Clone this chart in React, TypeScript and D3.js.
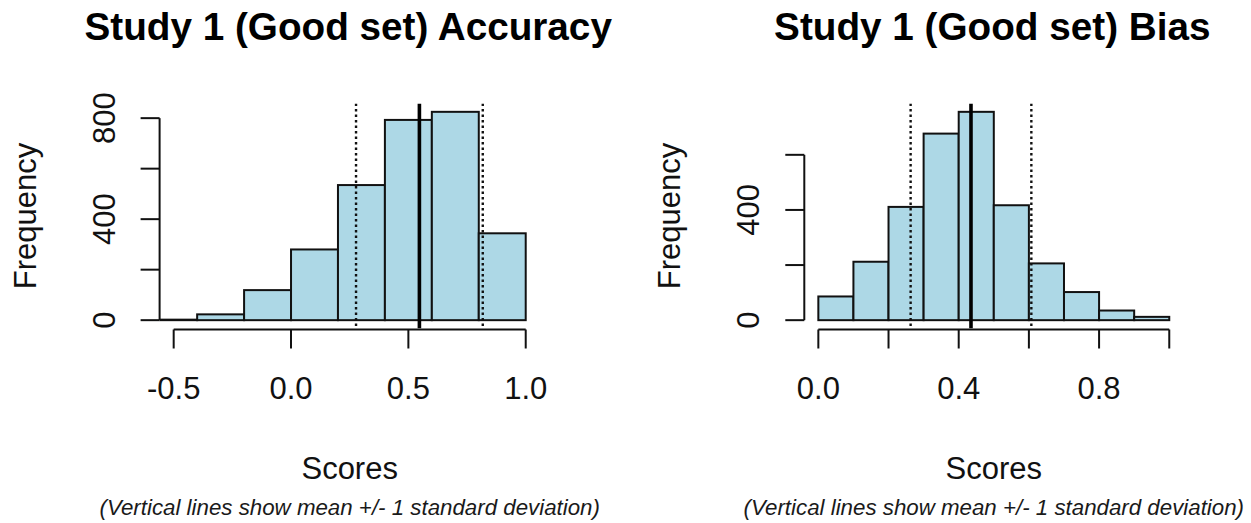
import React from "react";
import * as d3 from "d3";

// Accuracy histogram (Study 1, Good set)
const accuracyBreaks = [-0.6, -0.4, -0.2, 0, 0.2, 0.4, 0.6, 0.8, 1.0];
const accuracyCounts = [2, 23, 119, 280, 535, 793, 825, 344];
const accuracyMean = 0.547;
const accuracySd = 0.27;
const accuracyXLim = [-0.5, 1.0];
const accuracyXTicks = [-0.5, 0, 0.5, 1.0];
const accuracyXLabels = ["-0.5", "0.0", "0.5", "1.0"];
const accuracyYTicks = [0, 200, 400, 600, 800];
const accuracyYLabels = ["0", "", "400", "", "800"];

// Bias histogram (Study 1, Good set)
const biasBreaks = [0, 0.1, 0.2, 0.3, 0.4, 0.5, 0.6, 0.7, 0.8, 0.9, 1.0];
const biasCounts = [86, 212, 411, 677, 756, 417, 206, 102, 35, 12];
const biasMean = 0.435;
const biasSd = 0.172;
const biasXLim = [0, 1.0];
const biasXTicks = [0, 0.2, 0.4, 0.6, 0.8, 1.0];
const biasXLabels = ["0.0", "", "0.4", "", "0.8", ""];
const biasYTicks = [0, 200, 400, 600];
const biasYLabels = ["0", "", "400", ""];

const FONT = "'Liberation Sans', Arial, Helvetica, sans-serif";
const CAPTION = "(Vertical lines show mean +/- 1 standard deviation)";

type PanelProps = {
  id: string;
  title: string;
  breaks: number[];
  counts: number[];
  mean: number;
  sd: number;
  xLim: number[];
  xTicks: number[];
  xLabels: string[];
  yTicks: number[];
  yLabels: string[];
  left: number;
  right: number;
};

const PLOT_TOP = 103.5;
const PLOT_BOTTOM = 328.5;

function Panel(p: PanelProps) {
  const span = p.xLim[1] - p.xLim[0];
  const x = d3
    .scaleLinear()
    .domain([p.xLim[0] - 0.04 * span, p.xLim[1] + 0.04 * span])
    .range([p.left, p.right]);
  const maxCount = d3.max(p.counts) as number;
  const y = d3
    .scaleLinear()
    .domain([-0.04 * maxCount, 1.04 * maxCount])
    .range([PLOT_BOTTOM, PLOT_TOP]);

  const cx = (p.left + p.right) / 2;
  const cy = (PLOT_TOP + PLOT_BOTTOM) / 2;
  const tickLen = 19;
  const xAxisY = PLOT_BOTTOM + 1;
  const yAxisX = p.left;
  const sdLines = [p.mean - p.sd, p.mean + p.sd];

  return (
    <g>
      <defs>
        <clipPath id={`clip-${p.id}`}>
          <rect x={p.left} y={PLOT_TOP} width={p.right - p.left} height={PLOT_BOTTOM - PLOT_TOP} />
        </clipPath>
      </defs>

      <text x={cx - 1.5} y={40} textAnchor="middle" fontFamily={FONT} fontWeight="bold" fontSize={38.7}>
        {p.title}
      </text>

      <g clipPath={`url(#clip-${p.id})`}>
        {p.counts.map((c, i) => (
          <rect
            key={i}
            x={x(p.breaks[i])}
            y={y(c)}
            width={x(p.breaks[i + 1]) - x(p.breaks[i])}
            height={y(0) - y(c)}
            fill="#ADD8E6"
            stroke="#111"
            strokeWidth={2}
          />
        ))}
        {sdLines.map((v, i) => (
          <line
            key={i}
            x1={x(v)}
            x2={x(v)}
            y1={PLOT_TOP}
            y2={PLOT_BOTTOM}
            stroke="#111"
            strokeWidth={2.4}
            strokeDasharray="2.5 3"
          />
        ))}
        <line x1={x(p.mean)} x2={x(p.mean)} y1={PLOT_TOP} y2={PLOT_BOTTOM} stroke="#000" strokeWidth={3.6} />
      </g>

      {/* x axis */}
      <line
        x1={x(p.xTicks[0])}
        x2={x(p.xTicks[p.xTicks.length - 1])}
        y1={xAxisY}
        y2={xAxisY}
        stroke="#111"
        strokeWidth={2}
      />
      {p.xTicks.map((t, i) => (
        <g key={i}>
          <line x1={x(t)} x2={x(t)} y1={xAxisY} y2={xAxisY + tickLen} stroke="#111" strokeWidth={2} />
          {p.xLabels[i] && (
            <text x={x(t)} y={399} textAnchor="middle" fontFamily={FONT} fontSize={31} fill="#111">
              {p.xLabels[i]}
            </text>
          )}
        </g>
      ))}

      {/* y axis */}
      <line
        x1={yAxisX}
        x2={yAxisX}
        y1={y(p.yTicks[0])}
        y2={y(p.yTicks[p.yTicks.length - 1])}
        stroke="#111"
        strokeWidth={2}
      />
      {p.yTicks.map((t, i) => (
        <g key={i}>
          <line x1={yAxisX - tickLen} x2={yAxisX} y1={y(t)} y2={y(t)} stroke="#111" strokeWidth={2} />
          {p.yLabels[i] && (
            <text
              transform={`translate(${yAxisX - 45},${y(t)}) rotate(-90)`}
              textAnchor="middle"
              fontFamily={FONT}
              fontSize={31}
              fill="#111"
            >
              {p.yLabels[i]}
            </text>
          )}
        </g>
      ))}

      <text
        transform={`translate(${yAxisX - 124},${cy}) rotate(-90)`}
        textAnchor="middle"
        fontFamily={FONT}
        fontSize={31}
        fill="#111"
      >
        Frequency
      </text>

      <text x={cx} y={478.5} textAnchor="middle" fontFamily={FONT} fontSize={31} fill="#111">
        Scores
      </text>
      <text x={cx} y={515} textAnchor="middle" fontFamily={FONT} fontStyle="italic" fontSize={22.3} fill="#1a1a1a">
        {CAPTION}
      </text>
    </g>
  );
}

export default function App() {
  return (
    <svg
      width={1251}
      height={523}
      viewBox="0 0 1251 523"
      style={{ position: "absolute", left: 0, top: 0, background: "#fff" }}
    >
      <rect width={1251} height={523} fill="#fff" />
      <Panel
        id="acc"
        title="Study 1 (Good set) Accuracy"
        breaks={accuracyBreaks}
        counts={accuracyCounts}
        mean={accuracyMean}
        sd={accuracySd}
        xLim={accuracyXLim}
        xTicks={accuracyXTicks}
        xLabels={accuracyXLabels}
        yTicks={accuracyYTicks}
        yLabels={accuracyYLabels}
        left={159.6}
        right={539.8}
      />
      <Panel
        id="bias"
        title="Study 1 (Good set) Bias"
        breaks={biasBreaks}
        counts={biasCounts}
        mean={biasMean}
        sd={biasSd}
        xLim={biasXLim}
        xTicks={biasXTicks}
        xLabels={biasXLabels}
        yTicks={biasYTicks}
        yLabels={biasYLabels}
        left={804.3}
        right={1183.3}
      />
    </svg>
  );
}
